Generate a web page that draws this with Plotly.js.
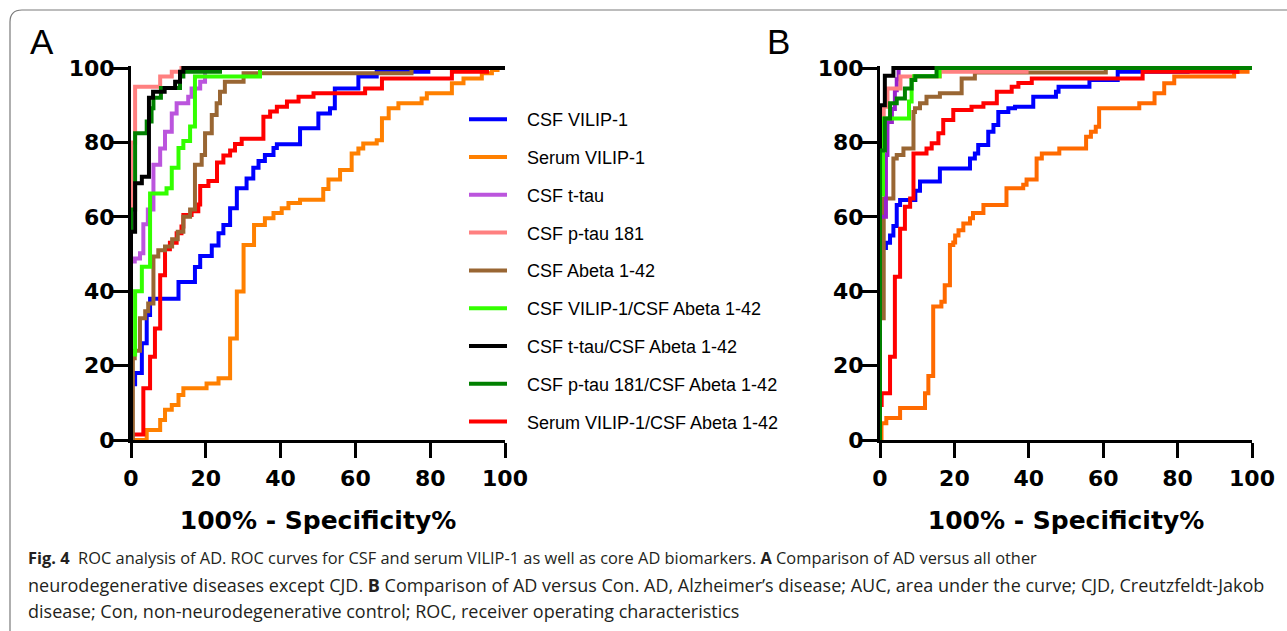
<!DOCTYPE html>
<html>
<head>
<meta charset="utf-8">
<script src="https://cdn.plot.ly/plotly-3.0.1.min.js"></script>
<style>html,body{margin:0;padding:0;background:#fff;}#chart{width:1287px;height:631px;}</style>
</head>
<body>
<div id="chart"></div>
<script>
// ---------- Series names ----------
const seriesNames = ["CSF VILIP-1", "Serum VILIP-1", "CSF t-tau", "CSF p-tau 181", "CSF Abeta 1-42",
  "CSF VILIP-1/CSF Abeta 1-42", "CSF t-tau/CSF Abeta 1-42", "CSF p-tau 181/CSF Abeta 1-42", "Serum VILIP-1/CSF Abeta 1-42"];
const tickValues = [0, 20, 40, 60, 80, 100];
const xTitle = "100% - Specificity%";

// ---------- Panel A: ROC points (100% - specificity, sensitivity) ----------
const A_csfVilip_x = [0,0,1.1,2.9,4.2,5.1,12.7,17.1,18.5,21.6,23.4,24.7,26.5,28.3,30.9,32.7,34.1,35.8,38.1,39,45.2,50.1,53.2,54.5,60.8,65.7,79.5,100];
const A_csfVilip_y = [0,15,18,26,33.6,38,42.5,46.5,49.5,52.3,55.6,57.8,62.3,67.7,70.3,73.2,75,76.6,78.5,79.5,83.8,87.8,89.2,94.5,97.7,99,100,100];
const A_serumVilip_x = [0,4.2,7.8,9.1,10.9,12.7,14,20.2,23.4,26.5,28.3,30.1,32.9,35.8,38.1,40.3,42.1,45.2,51.4,52.8,55.9,59,60.8,62.1,65.7,67.1,68.9,71.5,77.7,79.1,85.8,88.9,93.8,96.5,98,100];
const A_serumVilip_y = [0,2.7,5.4,8.1,9.4,12.1,13.9,15.2,16.6,27.3,39.9,52.4,57.8,59.6,61,62.3,63.7,64.6,67.5,70,72.6,77,78.4,79.7,80.6,86.5,89.2,90.5,91.8,93.2,95.9,97.2,98.6,99.5,100,100];
const A_tTau_x = [0,0,1,2.4,3.3,4.5,6,7.8,9.1,10.9,12.2,15.3,16.2,18.5,19.8,20.5,100];
const A_tTau_y = [0,48,48.8,50.2,58,62,74,78.4,82.9,87.8,90.5,92.3,94.5,96.3,99.4,100,100];
const A_pTau_x = [0,0,1.1,7.8,10.9,13.5,100];
const A_pTau_y = [0,80,95,97.7,99,100,100];
const A_abeta_x = [0,0.5,1,2.4,3.8,4.6,6,7.3,9.1,11,12.5,14,15.8,17.1,18.9,19.8,21.6,22.9,23.8,25.1,30.1,75,100];
const A_abeta_y = [0,22,24,32.7,34.6,36.7,49.3,51,52,54,56,60,62,74,76.6,82.5,87.4,90.5,93.6,96.3,98.6,100,100];
const A_vilipAbeta_x = [0,0,1.1,2.9,5.1,9.5,10.9,12.7,14,15.8,17.1,34.5,100];
const A_vilipAbeta_y = [0,23,40,46.6,66.3,67.7,73.2,78.5,80.4,84.3,97.7,100,100];
const A_tTauAbeta_x = [0,0,1.1,2.9,4.8,5.9,9,11.8,13.1,14,100];
const A_tTauAbeta_y = [0,56,69,70.8,92,93.6,94.6,96.3,99,100,100];
const A_pTauAbeta_x = [0,0,1.1,4.2,5.5,6,8,13.1,14,23.8,100];
const A_pTauAbeta_y = [0,62,82.5,85.6,89.2,92,94.6,97.7,99,100,100];
const A_serumAbeta_x = [0,0,3.3,5.1,6.4,7.8,9.1,10.4,12.2,13.5,14,16.2,18,18.5,20.7,23,24.7,26.5,27.8,29.6,35.4,37.2,39,41.7,44.8,48.8,62.6,67.1,85.8,95.2,100];
const A_serumAbeta_y = [0,1.5,13.9,22.4,30,44.3,51.3,53,55.6,57.4,60.5,61.5,63.3,68.3,69.6,74.6,76.5,77.8,79.6,81,86.9,88.3,89.6,91,92.3,93.2,94.5,97.2,99,100,100];

// ---------- Panel B ----------
const B_csfVilip_x = [0,0,1.6,2.7,3.6,4.5,5.4,9.5,10.75,16.1,24.2,25.5,26.4,29.1,30.5,31.8,34.5,36.3,41.2,47.3,48,56.3,63.9,82.7,100];
const B_csfVilip_y = [0,51.6,53,55,57.5,63.2,64.5,67,69.5,73,75.7,77,79.3,82.9,84.7,88.2,89.2,89.6,92.3,93.6,95,96.8,99,100,100];
const B_serumVilip_x = [0,0.4,1.7,5.4,12.1,13,14.3,16.5,17.4,18.8,19.7,20.2,21.1,22.4,24.2,25,27.8,34,38.5,39.4,42.1,43.5,48.2,55.4,56.7,58,58.9,69.7,73.8,76.4,79.1,95.2,98.8,100];
const B_serumVilip_y = [0,4.5,5.9,8.6,12.6,17.2,35.9,37.2,41.6,52.4,53.1,55,56.4,58.2,59.6,61,63.2,67.7,68.6,70,75.7,77,78.4,81.5,82.9,84.2,89.2,90.5,93.2,95.9,97.7,99,100,100];
const B_tTau_x = [0,0,1.6,2,3.2,4,4.5,5,100];
const B_tTau_y = [0,60,76.6,85.5,89,94,97,100,100];
const B_pTau_x = [0,0,1,2,5.5,16.1,39.4,100];
const B_pTau_y = [0,78,89.6,94.5,97.7,99,100,100];
const B_abeta_x = [0,0,1,3.6,4.5,6.3,9,9.4,10.75,12.5,16.1,21.95,25.5,60.7,100];
const B_abeta_y = [0,32.7,64.9,75.7,76.6,78.4,88.2,89.2,90.5,92.3,93.2,97.2,98.8,100,100];
const B_vilipAbeta_x = [0,0,0.8,7.8,8.5,9.2,16,100];
const B_vilipAbeta_y = [0,66,86.4,91,96.8,97.8,100,100];
const B_tTauAbeta_x = [0,0,1.3,3.6,100];
const B_tTauAbeta_y = [0,90,97.9,100,100];
const B_pTauAbeta_x = [0,0,1.3,2.7,4.5,6.7,8.5,9.5,15.2,100];
const B_pTauAbeta_y = [0,77.8,86.4,90.5,91.8,94.5,96.8,97.8,100,100];
const B_serumAbeta_x = [0,0,0.45,2.7,4,5.4,6.7,8.1,9,12.5,13.9,15.7,17,19.7,24.6,27.8,31.4,35.4,37.2,40.8,70.6,96.1,100];
const B_serumAbeta_y = [0,9.4,12.6,22.4,43.9,56.8,62.7,64.9,77,78.4,79.8,82.5,86,88.7,89.6,90.5,93.6,95,96,97.2,99,100,100];

// ---------- Styles ----------
const colorsA = ["#0000FF", "#FF8000", "#BB55DD", "#FF8080", "#996633", "#33FF00", "#000000", "#008000", "#FF0000"];
const colorsB = ["#0000FF", "#FF6A00", "#9922CC", "#FF8080", "#996633", "#33FF00", "#000000", "#008000", "#FF0000"];

const dataA = [
  [A_csfVilip_x, A_csfVilip_y], [A_serumVilip_x, A_serumVilip_y], [A_tTau_x, A_tTau_y],
  [A_pTau_x, A_pTau_y], [A_abeta_x, A_abeta_y], [A_vilipAbeta_x, A_vilipAbeta_y],
  [A_tTauAbeta_x, A_tTauAbeta_y], [A_pTauAbeta_x, A_pTauAbeta_y], [A_serumAbeta_x, A_serumAbeta_y]
];
const dataB = [
  [B_csfVilip_x, B_csfVilip_y], [B_serumVilip_x, B_serumVilip_y], [B_tTau_x, B_tTau_y],
  [B_pTau_x, B_pTau_y], [B_abeta_x, B_abeta_y], [B_vilipAbeta_x, B_vilipAbeta_y],
  [B_tTauAbeta_x, B_tTauAbeta_y], [B_pTauAbeta_x, B_pTauAbeta_y], [B_serumAbeta_x, B_serumAbeta_y]
];
// drawing order (bottom -> top)
const orderA = [1, 0, 8, 4, 2, 5, 3, 7, 6];
const orderB = [1, 0, 8, 4, 2, 3, 5, 6, 7];

const legendPad = "\u00a0\u00a0\u00a0";
const traces = [];
orderA.forEach(i => {
  traces.push({
    type: "scatter", mode: "lines", x: dataA[i][0], y: dataA[i][1], xaxis: "x", yaxis: "y",
    name: legendPad + seriesNames[i], legendrank: i + 1, legendgroup: "g" + i, showlegend: true,
    line: {color: colorsA[i], width: 4, shape: "hv"}, hoverinfo: "x+y+name"
  });
});
orderB.forEach(i => {
  traces.push({
    type: "scatter", mode: "lines", x: dataB[i][0], y: dataB[i][1], xaxis: "x2", yaxis: "y2",
    name: seriesNames[i], legendgroup: "g" + i, showlegend: false,
    line: {color: colorsB[i], width: 4, shape: "hv"}, hoverinfo: "x+y+name"
  });
});

const W = 1287, H = 631;
const px = v => v / W;
const py = v => 1 - v / H;

const tickFont = {family: "DejaVu Sans", size: 22, color: "#000", weight: 700};
const titleFont = {family: "DejaVu Sans", size: 25, color: "#000", weight: 700};

function xAxis(d0, d1, anchor) {
  return {
    domain: [px(d0), px(d1)], range: [0, 100], anchor: anchor,
    showgrid: false, zeroline: false, showline: true, linecolor: "#000", linewidth: 3,
    ticks: "outside", ticklen: 15, tickwidth: 3, tickcolor: "#000",
    tickmode: "array", tickvals: tickValues, ticktext: tickValues.map(String),
    tickfont: tickFont, ticklabelstandoff: 2,
    title: {text: xTitle, font: titleFont, standoff: 22}, automargin: false, fixedrange: true
  };
}
function yAxis(anchor) {
  return {
    domain: [py(440), py(65.8)], range: [0, 100.6], anchor: anchor,
    showgrid: false, zeroline: false, showline: true, linecolor: "#000", linewidth: 3,
    ticks: "outside", ticklen: 17, tickwidth: 3, tickcolor: "#000",
    tickmode: "array", tickvals: tickValues, ticktext: tickValues.map(String),
    tickfont: tickFont, ticklabelstandoff: -8, automargin: false, fixedrange: true
  };
}

const captionLines = [
  "<b>Fig. 4</b>\u00a0\u00a0ROC analysis of AD. ROC curves for CSF and serum VILIP-1 as well as core AD biomarkers. <b>A</b> Comparison of AD versus all other",
  "neurodegenerative diseases except CJD. <b>B</b> Comparison of AD versus Con. AD, Alzheimer’s disease; AUC, area under the curve; CJD, Creutzfeldt-Jakob",
  "disease; Con, non-neurodegenerative control; ROC, receiver operating characteristics"
];
const captionY = [557, 585, 611];
const captionSize = [16.4, 18.0, 18.0];

const annotations = [
  {xref: "paper", yref: "paper", x: px(28), y: py(41), xanchor: "left", yanchor: "middle", showarrow: false,
   text: "A", font: {family: "Liberation Sans", size: 35, color: "#000"}},
  {xref: "paper", yref: "paper", x: px(765), y: py(41), xanchor: "left", yanchor: "middle", showarrow: false,
   text: "B", font: {family: "Liberation Sans", size: 35, color: "#000"}}
];
captionLines.forEach((t, k) => annotations.push({
  xref: "paper", yref: "paper", x: px(26), y: py(captionY[k]), xanchor: "left", yanchor: "middle",
  showarrow: false, align: "left", text: t,
  font: {family: "Open Sans", size: captionSize[k], color: "#231F20"}
}));

const r = 12;
const boxPath = `M ${px(10)},${py(640)} L ${px(10)},${py(10 + r)} Q ${px(10)},${py(10)} ${px(10 + r)},${py(10)} L ${px(1300)},${py(10)}`;

const layout = {
  width: W, height: H,
  margin: {l: 0, r: 0, t: 0, b: 0, pad: 0},
  paper_bgcolor: "#fff", plot_bgcolor: "rgba(0,0,0,0)",
  showlegend: true,
  legend: {
    x: px(464), y: py(101), xanchor: "left", yanchor: "top",
    font: {family: "Liberation Sans", size: 18, color: "#000"},
    bgcolor: "rgba(0,0,0,0)", borderwidth: 0, tracegroupgap: 11.4,
    traceorder: "grouped", itemwidth: 38, itemclick: false, itemdoubleclick: false
  },
  xaxis: xAxis(131, 505, "y"),
  yaxis: yAxis("x"),
  xaxis2: xAxis(880, 1252, "y2"),
  yaxis2: yAxis("x2"),
  annotations: annotations,
  shapes: [{type: "path", xref: "paper", yref: "paper", path: boxPath, line: {color: "#7a7a7a", width: 1.2}, layer: "below"}]
};

Plotly.newPlot("chart", traces, layout, {displayModeBar: false, staticPlot: true});
</script>
</body>
</html>
